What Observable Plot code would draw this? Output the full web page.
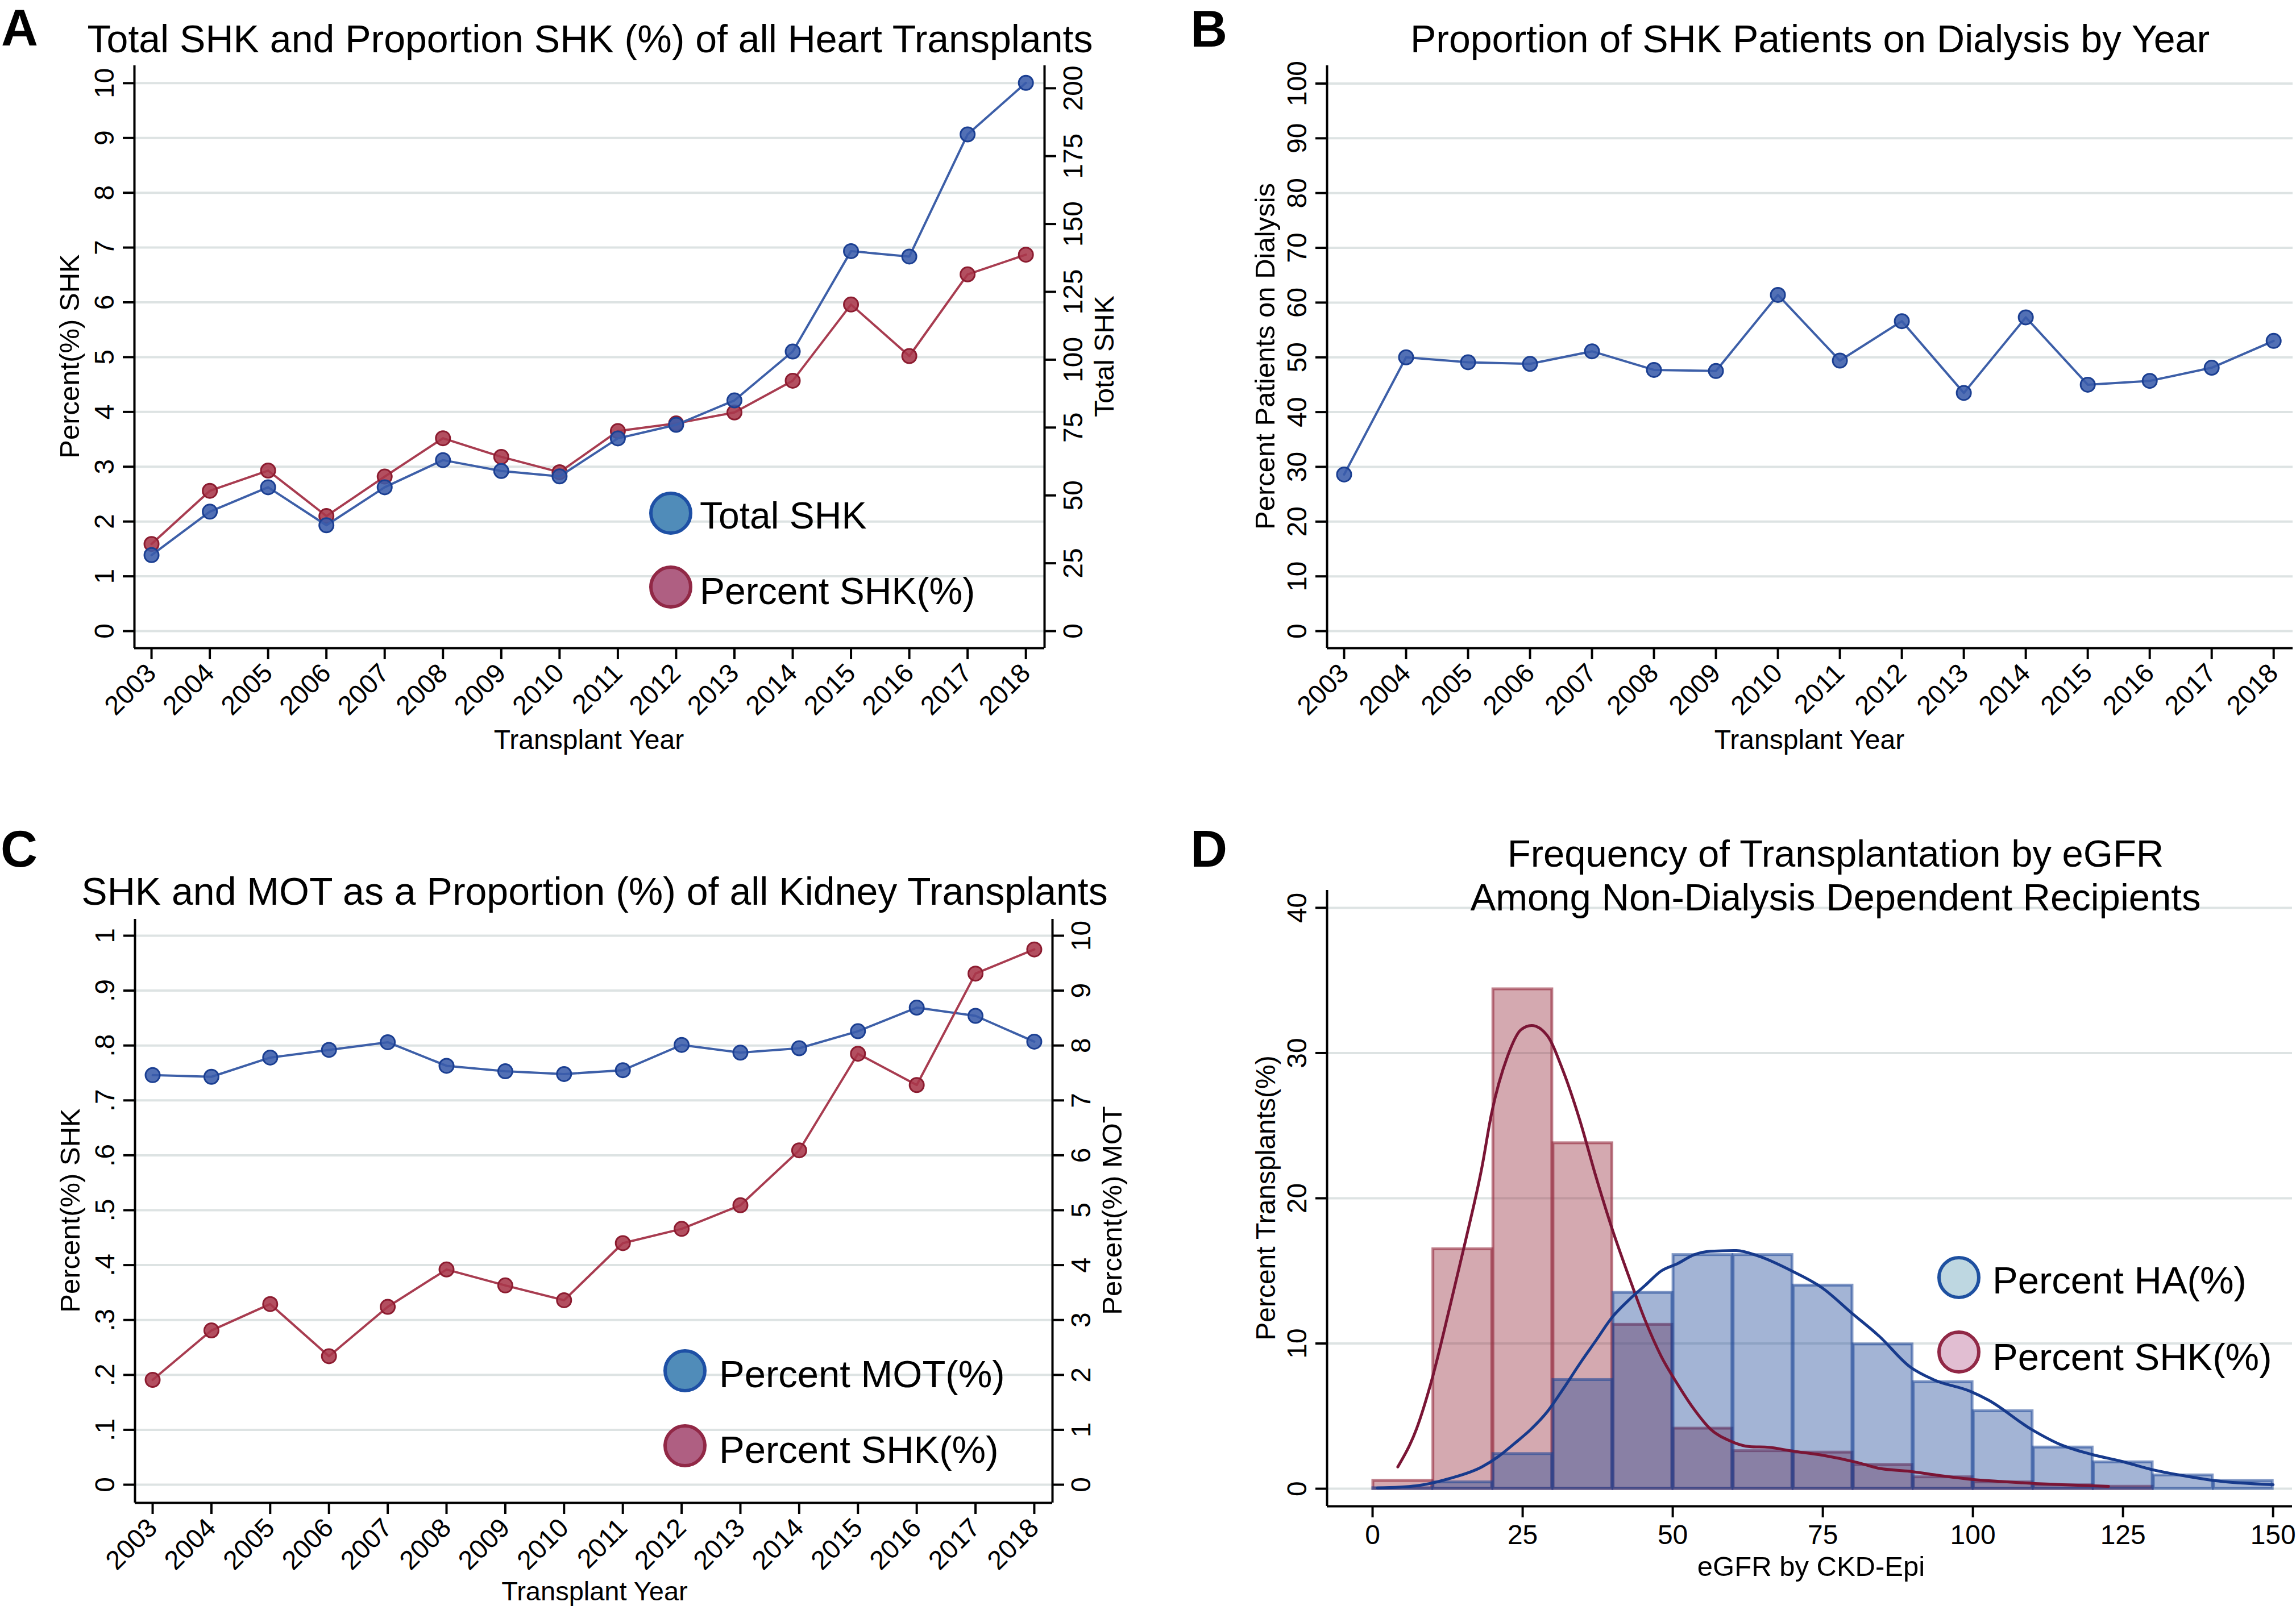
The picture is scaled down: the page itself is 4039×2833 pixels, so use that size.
<!DOCTYPE html>
<html><head><meta charset="utf-8">
<script src="https://cdn.jsdelivr.net/npm/d3@7"></script>
<script src="https://cdn.jsdelivr.net/npm/@observablehq/plot@0.6"></script>
<style>
html,body{margin:0;padding:0;background:#fff;}
#root{position:relative;width:4039px;height:2833px;overflow:hidden;background:#fff;}
#root svg{position:absolute;left:0;top:0;}
</style></head><body><div id="root"></div>
<script>
// ---------------- DATA ----------------
const years = [2003,2004,2005,2006,2007,2008,2009,2010,2011,2012,2013,2014,2015,2016,2017,2018];

// Panel A: heart transplants
const heartPctSHK   = [1.59,2.56,2.93,2.10,2.82,3.52,3.18,2.90,3.65,3.79,3.99,4.57,5.96,5.02,6.51,6.87];
const heartTotalSHK = [28,44,53,39,53,63,59,57,71,76,85,103,140,138,183,202];
const aLeftTicks  = [0,1,2,3,4,5,6,7,8,9,10];
const aRightTicks = [0,25,50,75,100,125,150,175,200];

// Panel B: dialysis
const dialysisPct = [28.6,50.0,49.1,48.8,51.1,47.7,47.5,61.4,49.4,56.6,43.5,57.3,45.0,45.7,48.1,53.0];
const bTicks = [0,10,20,30,40,50,60,70,80,90,100];

// Panel C: kidney transplants
const kidneyPctSHK = [0.191,0.281,0.329,0.234,0.324,0.392,0.363,0.336,0.440,0.466,0.509,0.609,0.785,0.728,0.931,0.975];
const kidneyPctMOT = [7.46,7.43,7.78,7.92,8.06,7.63,7.53,7.48,7.55,8.01,7.87,7.95,8.26,8.69,8.54,8.07];
const cLeftTicks = [0,0.1,0.2,0.3,0.4,0.5,0.6,0.7,0.8,0.9,1];
const cLeftTickLabels = ["0",".1",".2",".3",".4",".5",".6",".7",".8",".9","1"];
const cRightTicks = [0,1,2,3,4,5,6,7,8,9,10];

// Panel D: eGFR histograms (bin width 10) and density curves
const egfrBinStart = [0,10,20,30,40,50,60,70,80,90,100,110,120,130,140];
const egfrBinWidth = 10;
const haBinPct  = [0.05,0.45,2.4,7.5,13.5,16.1,16.1,14.0,9.95,7.35,5.35,2.85,1.83,0.93,0.54];
const shkBinPct = [0.55,16.5,34.4,23.8,11.3,4.15,2.6,2.5,1.65,0.8,0.45,0.25,0.15,0,0];
const haKdeX = [0.8,7.3,12.8,18.2,20.9,23.6,26.4,29.1,31.8,34.5,37.2,39.9,42.7,45.4,48.1,50.8,53.5,56.3,60.6,64.4,69.8,75,79.8,84.4,89.5,93.5,99.6,102.6,109.7,114.8,119.9,124.9,130,135,140,150];
const haKdeY = [0.05,0.2,0.7,1.5,2.2,3.1,4.1,5.3,6.9,8.6,10.2,11.8,13.0,14.0,15.0,15.5,16.1,16.35,16.4,16.0,15.0,13.8,12.1,10.5,8.4,7.5,6.7,6.1,4.1,3.0,2.35,1.87,1.3,0.9,0.57,0.28];
const shkKdeX = [4.2,7.3,10,12.8,15.5,18.2,19.8,22.5,24.7,26.5,29.1,31.8,34.5,37.2,39.9,42.7,45.4,48.1,50.8,53.5,56.3,59.5,62.8,66,69.8,75,80.8,84.4,89.5,94.5,99.6,104.6,109.7,114.8,122.6];
const shkKdeY = [1.5,4.1,7.7,12.4,17.1,22.1,25.8,29.8,31.6,31.9,31.2,28.7,25.4,21.5,17.9,14.6,11.6,9.1,7.2,5.5,4.1,3.3,2.9,2.85,2.6,2.3,1.8,1.4,1.2,0.9,0.65,0.5,0.37,0.28,0.16];
const dYTicks = [0,10,20,30,40];
const dXTicks = [0,25,50,75,100,125,150];

// ---------------- STYLE ----------------
const W = 4039, H = 2833;
const FONT = "'Liberation Sans', Arial, Helvetica, sans-serif";
const GRID = "#dde3e3";
const BLUE_LINE = "#3d5fa8", BLUE_FILL = "#3a5cab", BLUE_STROKE = "#1b3f92";
const RED_LINE = "#a83c50", RED_FILL = "#a8374a", RED_STROKE = "#8c1c30";
// right axis of panel A: value 200 sits at left-axis 9.907
const totalToLeft = 9.907 / 200;

function common(frame, xdom, ydom) {
  return {
    width: W, height: H,
    marginLeft: frame[0], marginRight: W - frame[1], marginTop: frame[2], marginBottom: H - frame[3],
    style: {fontFamily: FONT, fontSize: "48px", color: "black", background: "transparent", overflow: "visible", maxWidth: "none"},
    x: {domain: xdom, label: null}, y: {domain: ydom, label: null}
  };
}
function frameLines(xdom, ydom, right) {
  const m = [Plot.ruleX([xdom[0]], {stroke: "black", strokeWidth: 4}), Plot.ruleY([ydom[0]], {stroke: "black", strokeWidth: 4})];
  if (right) m.push(Plot.ruleX([xdom[1]], {stroke: "black", strokeWidth: 4}));
  return m;
}
function leftAxis(ticks, fmt) {
  return Plot.axisY({ticks, tickFormat: fmt, tickSize: 20, tickPadding: 17, tickRotate: -90, strokeWidth: 4, fontSize: 48, label: null});
}
function rightAxis(ticks, fmt) {
  return Plot.axisY({anchor: "right", ticks, tickFormat: fmt, tickSize: 20, tickPadding: 12, tickRotate: -90, lineAnchor: "top", strokeWidth: 4, fontSize: 48, label: null});
}
function yearAxis() {
  return Plot.axisX({ticks: years, tickFormat: d => String(d), tickSize: 20, tickPadding: 16, tickRotate: -45, strokeWidth: 4, fontSize: 47, label: null});
}
function series(rows, key, line, fill, stroke) {
  return [
    Plot.line(rows, {x: "year", y: key, stroke: line, strokeWidth: 4}),
    Plot.dot(rows, {x: "year", y: key, r: 12.5, fill, fillOpacity: 0.88, stroke, strokeWidth: 3})
  ];
}

const root = document.getElementById("root");

// ---------------- PANEL A ----------------
{
  const xd = [2002.707, 2018.32], yd = [-0.311, 10.32];
  const rows = years.map((yr, i) => ({year: yr, pct: heartPctSHK[i], tot: heartTotalSHK[i] * totalToLeft}));
  const rightPos = aRightTicks.map(v => v * totalToLeft);
  root.appendChild(Plot.plot({
    ...common([236, 1837, 115, 1140], xd, yd),
    marks: [
      Plot.gridY({ticks: aLeftTicks, stroke: GRID, strokeOpacity: 1, strokeWidth: 4}),
      ...frameLines(xd, yd, true),
      leftAxis(aLeftTicks, d => String(d)),
      rightAxis(rightPos, d => String(aRightTicks[rightPos.indexOf(d)])),
      yearAxis(),
      ...series(rows, "pct", RED_LINE, RED_FILL, RED_STROKE),
      ...series(rows, "tot", BLUE_LINE, BLUE_FILL, BLUE_STROKE)
    ]
  }));
}

// ---------------- PANEL B ----------------
{
  const xd = [2002.725, 2018.31], yd = [-3.11, 103.27];
  const rows = years.map((yr, i) => ({year: yr, v: dialysisPct[i]}));
  root.appendChild(Plot.plot({
    ...common([2334, 4033, 115, 1140], xd, yd),
    marks: [
      Plot.gridY({ticks: bTicks, stroke: GRID, strokeOpacity: 1, strokeWidth: 4}),
      ...frameLines(xd, yd, false),
      leftAxis(bTicks, d => String(d)),
      yearAxis(),
      ...series(rows, "v", BLUE_LINE, BLUE_FILL, BLUE_STROKE)
    ]
  }));
}

// ---------------- PANEL C ----------------
{
  const xd = [2002.70, 2018.31], yd = [-0.0331, 1.030];
  const rows = years.map((yr, i) => ({year: yr, shk: kidneyPctSHK[i], mot: kidneyPctMOT[i] / 10}));
  const rightPos = cRightTicks.map(v => v / 10);
  root.appendChild(Plot.plot({
    ...common([237, 1851, 1617, 2644], xd, yd),
    marks: [
      Plot.gridY({ticks: cLeftTicks, stroke: GRID, strokeOpacity: 1, strokeWidth: 4}),
      ...frameLines(xd, yd, true),
      leftAxis(cLeftTicks, d => cLeftTickLabels[cLeftTicks.indexOf(d)]),
      rightAxis(rightPos, d => String(cRightTicks[rightPos.indexOf(d)])),
      yearAxis(),
      ...series(rows, "mot", BLUE_LINE, BLUE_FILL, BLUE_STROKE),
      ...series(rows, "shk", RED_LINE, RED_FILL, RED_STROKE)
    ]
  }));
}

// ---------------- PANEL D ----------------
{
  const xd = [-7.58, 153.2], yd = [-1.21, 41.21];
  const shkBars = egfrBinStart.map((b, i) => ({x1: b, x2: b + egfrBinWidth, y: shkBinPct[i]})).filter(d => d.y > 0);
  const haBars = egfrBinStart.map((b, i) => ({x1: b, x2: b + egfrBinWidth, y: haBinPct[i]})).filter(d => d.y > 0);
  const haKde = haKdeX.map((x, i) => ({x, y: haKdeY[i]}));
  const shkKde = shkKdeX.map((x, i) => ({x, y: shkKdeY[i]}));
  const SHK_C = "#93273a", HA_C = "#1a4496";
  root.appendChild(Plot.plot({
    ...common([2334, 4032, 1566, 2650], xd, yd),
    marks: [
      Plot.gridY({ticks: dYTicks, stroke: GRID, strokeOpacity: 1, strokeWidth: 4}),
      Plot.rectY(shkBars, {x1: "x1", x2: "x2", y: "y", fill: SHK_C, fillOpacity: 0.4, stroke: SHK_C, strokeOpacity: 0.6, strokeWidth: 5, insetLeft: 1, insetRight: 1}),
      Plot.rectY(haBars, {x1: "x1", x2: "x2", y: "y", fill: HA_C, fillOpacity: 0.4, stroke: HA_C, strokeOpacity: 0.55, strokeWidth: 5, insetLeft: 1, insetRight: 1}),
      Plot.line(shkKde, {x: "x", y: "y", stroke: "#7a1535", strokeWidth: 5, curve: "monotone-x"}),
      Plot.line(haKde, {x: "x", y: "y", stroke: "#173a8c", strokeWidth: 5, curve: "monotone-x"}),
      ...frameLines(xd, yd, false),
      leftAxis(dYTicks, d => String(d)),
      Plot.axisX({ticks: dXTicks, tickFormat: d => String(d), tickSize: 20, tickPadding: 12, strokeWidth: 4, fontSize: 48, label: null})
    ]
  }));
}

// ---------------- TEXT OVERLAY (titles, axis titles, legends) ----------------
const ov = d3.select(root).append("svg").attr("width", W).attr("height", H)
  .style("font-family", FONT).style("overflow", "visible");
function txt(s, x, y, size, anchor = "start", bold = false) {
  const t = ov.append("text").attr("x", x).attr("y", y).attr("font-size", size)
    .attr("text-anchor", anchor).attr("fill", "#000").text(s);
  if (bold) t.attr("font-weight", "bold");
  return t;
}
function vtxt(s, cx, cy, size) {
  ov.append("text").attr("transform", `translate(${cx},${cy}) rotate(-90)`)
    .attr("text-anchor", "middle").attr("dy", "0.36em").attr("font-size", size).attr("fill", "#000").text(s);
}
function legend(cx, cy, fill, stroke, label, tx, ty, size) {
  ov.append("circle").attr("cx", cx).attr("cy", cy).attr("r", 35).attr("fill", fill)
    .attr("stroke", stroke).attr("stroke-width", 6);
  txt(label, tx, ty, size);
}

// panel letters
txt("A", 2, 80, 90, "start", true);
txt("B", 2094, 82, 90, "start", true);
txt("C", 1, 1525, 90, "start", true);
txt("D", 2094, 1525, 90, "start", true);

// titles
txt("Total SHK and Proportion SHK (%) of all Heart Transplants", 1038, 92, 68, "middle");
txt("Proportion of SHK Patients on Dialysis by Year", 3184, 92, 68, "middle");
txt("SHK and MOT as a Proportion (%) of all Kidney Transplants", 1046, 1592, 68, "middle");
txt("Frequency of Transplantation by eGFR", 3229, 1525, 67, "middle");
txt("Among Non-Dialysis Dependent Recipients", 3229, 1602, 67, "middle");

// axis titles
vtxt("Percent(%) SHK", 121, 627, 49);
vtxt("Total SHK", 1942, 627, 48);
txt("Transplant Year", 1036, 1318, 48, "middle");
vtxt("Percent Patients on Dialysis", 2224, 627, 49);
txt("Transplant Year", 3183, 1318, 48, "middle");
vtxt("Percent(%) SHK", 122, 2130, 49);
vtxt("Percent(%) MOT", 1955, 2130, 49);
txt("Transplant Year", 1046, 2816, 47, "middle");
vtxt("Percent Transplants(%)", 2226, 2108, 48);
txt("eGFR by CKD-Epi", 3186, 2773, 49, "middle");

// legends
legend(1180, 903, "#508cb9", "#1e50a5", "Total SHK", 1231, 930, 66);
legend(1180, 1033, "#af5f82", "#912846", "Percent SHK(%)", 1231, 1063, 66);
legend(1205, 2412, "#508cb9", "#1e50a5", "Percent MOT(%)", 1265, 2441, 67);
legend(1205, 2544, "#af5f82", "#912846", "Percent SHK(%)", 1265, 2574, 67);
legend(3446, 2248, "#bed7e1", "#1e50a0", "Percent HA(%)", 3505, 2276, 67);
legend(3446, 2379, "#e1bed2", "#912846", "Percent SHK(%)", 3505, 2411, 67);
</script>
</body></html>
